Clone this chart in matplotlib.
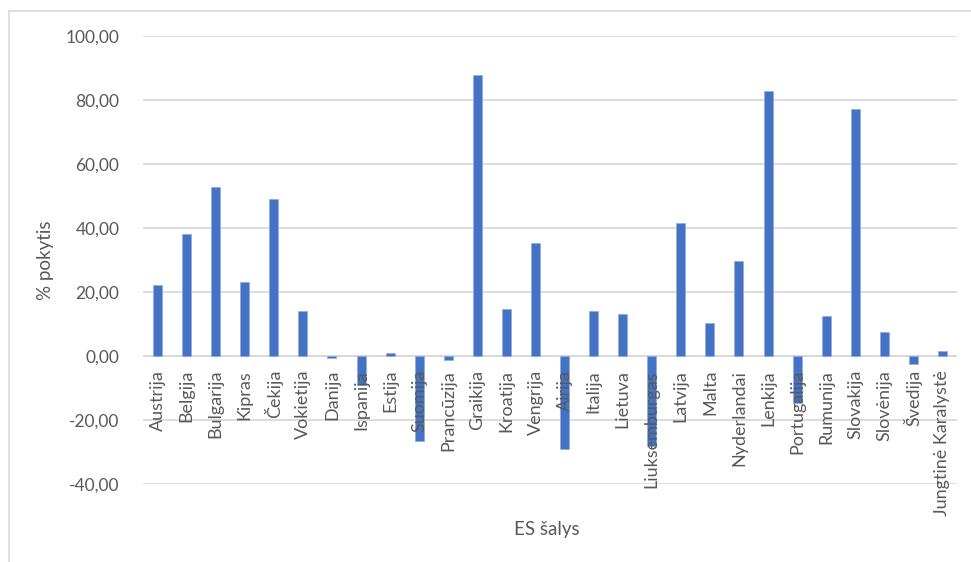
import matplotlib
matplotlib.use("Agg")
import matplotlib.pyplot as plt
from matplotlib.lines import Line2D
from matplotlib.ticker import FuncFormatter

countries = [
    "Austrija", "Belgija", "Bulgarija", "Kipras", "Čekija", "Vokietija",
    "Danija", "Ispanija", "Estija", "Suomija", "Prancūzija", "Graikija",
    "Kroatija", "Vengrija", "Airija", "Italija", "Lietuva", "Liuksemburgas",
    "Latvija", "Malta", "Nyderlandai", "Lenkija", "Portugalija", "Rumunija",
    "Slovakija", "Slovėnija", "Švedija", "Jungtinė Karalystė",
]
change_pct = [
    22.1, 38.1, 52.7, 23.1, 49.0, 14.1,
    -0.7, -9.1, 0.9, -26.6, -1.1, 87.8,
    14.8, 35.3, -29.0, 14.1, 13.0, -28.0,
    41.6, 10.2, 29.8, 82.7, -14.8, 12.4,
    77.1, 7.5, -2.6, 1.6,
]
y_ticks = [-40, -20, 0, 20, 40, 60, 80, 100]

plt.rcParams["font.family"] = ["Lato", "DejaVu Sans"]
text_color = "#595959"
grid_color = "#d9d9d9"
bar_color = "#4472c4"

W, H = 971, 562
fig = plt.figure(figsize=(W / 100, H / 100), dpi=100)
ax = fig.add_axes([143 / W, 1 - 484 / H, (957 - 143) / W, (484 - 36) / H])

x = list(range(len(countries)))
ax.bar(x, change_pct, width=0.31, color=bar_color, edgecolor="#8faadc",
       linewidth=0.5, zorder=3)

ax.set_xlim(-0.5, len(countries) - 0.5)
ax.set_ylim(-40, 100)
ax.set_yticks(y_ticks)
ax.yaxis.set_major_formatter(FuncFormatter(lambda v, p: f"{v:.2f}".replace(".", ",")))
ax.grid(axis="y", color=grid_color, linewidth=1.3, zorder=0)
ax.axhline(0, color=grid_color, linewidth=1.3, zorder=1)

for s in ax.spines.values():
    s.set_visible(False)
ax.tick_params(axis="y", length=0, pad=17, labelsize=12.5, labelcolor=text_color)
ax.set_xticks([])

# Category labels hang just below the zero line, rotated vertically
for xi, name in zip(x, countries):
    ax.annotate(name, xy=(xi, 0), xytext=(0, -10), textcoords="offset points",
                rotation=90, ha="center", va="top", fontsize=13,
                color=text_color, zorder=4)

ax.set_ylabel("% pokytis", fontsize=13.5, color=text_color, labelpad=8)
fig.text(547 / W, 1 - 530 / H, "ES šalys", ha="center", va="center",
         fontsize=13.5, color=text_color)

# Light frame along the top and left edge of the chart area
fig.add_artist(Line2D([9 / W, 1], [1 - 10.5 / H, 1 - 10.5 / H],
                      transform=fig.transFigure, color=grid_color, linewidth=1.2))
fig.add_artist(Line2D([9 / W, 9 / W], [0, 1 - 10.5 / H],
                      transform=fig.transFigure, color=grid_color, linewidth=1.2))

fig.savefig("out.png", dpi=100, facecolor="white")
